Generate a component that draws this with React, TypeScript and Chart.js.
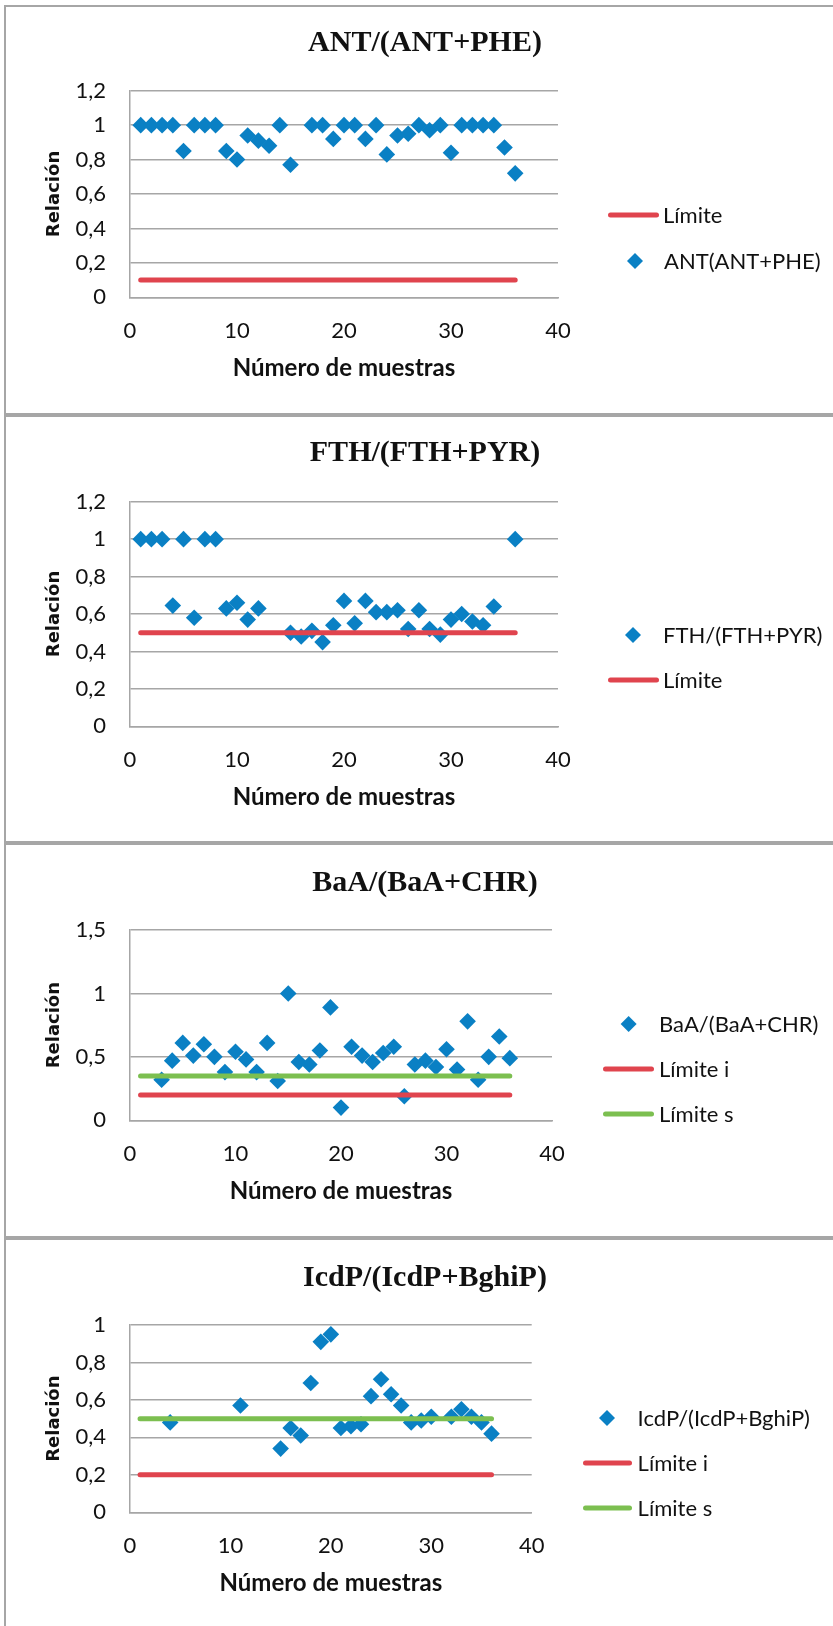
import React, { useEffect, useRef } from "react";
import { Chart, registerables } from "chart.js";

Chart.register(...registerables);

// ---------- DATA ----------
const SAMPLES = [1, 2, 3, 4, 5, 6, 7, 8, 9, 10, 11, 12, 13, 14, 15, 16, 17, 18, 19, 20, 21, 22, 23, 24, 25, 26, 27, 28, 29, 30, 31, 32, 33, 34, 35, 36];
const LIMIT_X = [1, 36];

const X_TICKS = [0, 10, 20, 30, 40];
const X_TICK_LABELS = ["0", "10", "20", "30", "40"];

const Y_TICKS_12 = [0, 0.2, 0.4, 0.6, 0.8, 1, 1.2];
const Y_TICK_LABELS_12 = ["0", "0,2", "0,4", "0,6", "0,8", "1", "1,2"];
const Y_TICKS_15 = [0, 0.5, 1, 1.5];
const Y_TICK_LABELS_15 = ["0", "0,5", "1", "1,5"];
const Y_TICKS_10 = [0, 0.2, 0.4, 0.6, 0.8, 1];
const Y_TICK_LABELS_10 = ["0", "0,2", "0,4", "0,6", "0,8", "1"];

const ANT_VALUES = [1, 1, 1, 1, 0.85, 1, 1, 1, 0.85, 0.8, 0.94, 0.91, 0.88, 1, 0.77, null, 1, 1, 0.92, 1, 1, 0.92, 1, 0.83, 0.94, 0.95, 1, 0.97, 1, 0.84, 1, 1, 1, 1, 0.87, 0.72];
const ANT_LIMIT = [0.1, 0.1];

const FTH_VALUES = [1, 1, 1, 0.645, 1, 0.58, 1, 1, 0.63, 0.66, 0.57, 0.63, null, null, 0.5, 0.48, 0.51, 0.45, 0.54, 0.67, 0.55, 0.67, 0.61, 0.61, 0.62, 0.52, 0.62, 0.52, 0.49, 0.57, 0.6, 0.56, 0.54, 0.64, null, 1];
const FTH_LIMIT = [0.5, 0.5];

const BAA_VALUES = [null, null, 0.32, 0.47, 0.61, 0.51, 0.6, 0.5, 0.38, 0.54, 0.48, 0.38, 0.61, 0.31, 1.0, 0.46, 0.44, 0.55, 0.89, 0.1, 0.58, 0.51, 0.46, 0.53, 0.58, 0.19, 0.44, 0.47, 0.42, 0.56, 0.4, 0.78, 0.32, 0.5, 0.66, 0.49];
const BAA_LIMIT_I = [0.2, 0.2];
const BAA_LIMIT_S = [0.35, 0.35];

const ICDP_VALUES = [null, null, null, 0.48, null, null, null, null, null, null, 0.57, null, null, null, 0.34, 0.45, 0.41, 0.69, 0.91, 0.95, 0.45, 0.46, 0.47, 0.62, 0.71, 0.63, 0.57, 0.48, 0.49, 0.51, null, 0.51, 0.55, 0.51, 0.48, 0.42];
const ICDP_LIMIT_I = [0.2, 0.2];
const ICDP_LIMIT_S = [0.5, 0.5];

// ---------- STYLE / LAYOUT ----------
const BLUE = "#0a80c4";
const RED = "#e0444e";
const GREEN = "#7cbf50";
const GRID = "#a6a6a6";
const TEXT = "#111111";
const CANVAS_LEFT = 6;
const CANVAS_W = 827;
const Y_AXIS_W = 124;
const X_AXIS_H = 100;

type Series = {
  label: string;
  kind: "scatter" | "line";
  xs: number[];
  values: (number | null)[];
  color: string;
  legend: { y: number; x1: number; x2: number; textX: number };
};

type PanelCfg = {
  title: string;
  top: number;
  height: number;
  plot: { top: number; bottom: number; right: number };
  yMax: number;
  yTicks: number[];
  yTickLabels: string[];
  titleY: number;
  series: Series[];
};

const PANELS: PanelCfg[] = [
  {
    title: "ANT/(ANT+PHE)",
    top: 7,
    height: 406,
    plot: { top: 83.7, bottom: 290.3, right: 552 },
    yMax: 1.2,
    yTicks: Y_TICKS_12,
    yTickLabels: Y_TICK_LABELS_12,
    titleY: 36,
    series: [
      { label: "Límite", kind: "line", xs: LIMIT_X, values: ANT_LIMIT, color: RED, legend: { y: 208, x1: 602, x2: 653, textX: 657 } },
      { label: "ANT(ANT+PHE)", kind: "scatter", xs: SAMPLES, values: ANT_VALUES, color: BLUE, legend: { y: 254, x1: 629, x2: 629, textX: 658 } },
    ],
  },
  {
    title: "FTH/(FTH+PYR)",
    top: 417,
    height: 424,
    plot: { top: 84.7, bottom: 309.3, right: 552 },
    yMax: 1.2,
    yTicks: Y_TICKS_12,
    yTickLabels: Y_TICK_LABELS_12,
    titleY: 36,
    series: [
      { label: "FTH/(FTH+PYR)", kind: "scatter", xs: SAMPLES, values: FTH_VALUES, color: BLUE, legend: { y: 218, x1: 627, x2: 627, textX: 657 } },
      { label: "Límite", kind: "line", xs: LIMIT_X, values: FTH_LIMIT, color: RED, legend: { y: 263, x1: 602, x2: 653, textX: 657 } },
    ],
  },
  {
    title: "BaA/(BaA+CHR)",
    top: 845,
    height: 391,
    plot: { top: 85, bottom: 275.3, right: 546 },
    yMax: 1.5,
    yTicks: Y_TICKS_15,
    yTickLabels: Y_TICK_LABELS_15,
    titleY: 38,
    series: [
      { label: "BaA/(BaA+CHR)", kind: "scatter", xs: SAMPLES, values: BAA_VALUES, color: BLUE, legend: { y: 179, x1: 622.6, x2: 622.6, textX: 653 } },
      { label: "Límite i", kind: "line", xs: LIMIT_X, values: BAA_LIMIT_I, color: RED, legend: { y: 224, x1: 597, x2: 648, textX: 653 } },
      { label: "Límite s", kind: "line", xs: LIMIT_X, values: BAA_LIMIT_S, color: GREEN, legend: { y: 269, x1: 597, x2: 648, textX: 653 } },
    ],
  },
  {
    title: "IcdP/(IcdP+BghiP)",
    top: 1240,
    height: 386,
    plot: { top: 85, bottom: 272.3, right: 525.7 },
    yMax: 1,
    yTicks: Y_TICKS_10,
    yTickLabels: Y_TICK_LABELS_10,
    titleY: 38,
    series: [
      { label: "IcdP/(IcdP+BghiP)", kind: "scatter", xs: SAMPLES, values: ICDP_VALUES, color: BLUE, legend: { y: 178, x1: 601, x2: 601, textX: 631.6 } },
      { label: "Límite i", kind: "line", xs: LIMIT_X, values: ICDP_LIMIT_I, color: RED, legend: { y: 223, x1: 577, x2: 626, textX: 631.6 } },
      { label: "Límite s", kind: "line", xs: LIMIT_X, values: ICDP_LIMIT_S, color: GREEN, legend: { y: 268, x1: 577, x2: 626, textX: 631.6 } },
    ],
  },
];

const BORDERS = [
  { top: 5, height: 410 },
  { top: 415, height: 428 },
  { top: 843, height: 395 },
  { top: 1238, height: 500 },
];

function toPoints(xs: number[], values: (number | null)[]) {
  const pts: { x: number; y: number }[] = [];
  xs.forEach((x, i) => {
    const v = values[i];
    if (v !== null && v !== undefined) pts.push({ x, y: v });
  });
  return pts;
}

function drawDiamond(ctx: CanvasRenderingContext2D, x: number, y: number, r: number, color: string) {
  ctx.beginPath();
  ctx.moveTo(x - r, y);
  ctx.lineTo(x, y - r);
  ctx.lineTo(x + r, y);
  ctx.lineTo(x, y + r);
  ctx.closePath();
  ctx.fillStyle = color;
  ctx.fill();
}

function Panel({ cfg }: { cfg: PanelCfg }) {
  const ref = useRef<HTMLCanvasElement>(null);
  useEffect(() => {
    const canvas = ref.current;
    if (!canvas) return;
    const n = cfg.series.length;
    const datasets: any[] = cfg.series.map((s, k) =>
      s.kind === "scatter"
        ? {
            type: "scatter",
            label: s.label,
            data: toPoints(s.xs, s.values),
            pointStyle: "rectRot",
            pointRadius: 8.3,
            pointHoverRadius: 8.3,
            backgroundColor: s.color,
            borderColor: s.color,
            borderWidth: 0,
            order: n - k,
          }
        : {
            type: "line",
            label: s.label,
            data: toPoints(s.xs, s.values),
            borderColor: s.color,
            backgroundColor: s.color,
            borderWidth: 5,
            borderCapStyle: "round",
            pointRadius: 0,
            pointHoverRadius: 0,
            fill: false,
            tension: 0,
            order: n - k,
          }
    );

    const overlay = {
      id: "overlay",
      afterDraw(chart: any) {
        const ctx: CanvasRenderingContext2D = chart.ctx;
        ctx.save();
        ctx.fillStyle = TEXT;
        ctx.font = "bold 30px 'Liberation Serif'";
        ctx.textAlign = "center";
        ctx.textBaseline = "middle";
        ctx.fillText(cfg.title, 419, cfg.titleY);
        ctx.font = "22px Lato";
        ctx.textAlign = "left";
        cfg.series.forEach((s) => {
          const L = s.legend;
          if (s.kind === "line") {
            ctx.beginPath();
            ctx.strokeStyle = s.color;
            ctx.lineWidth = 5;
            ctx.lineCap = "round";
            ctx.moveTo(L.x1 + 2.5, L.y);
            ctx.lineTo(L.x2 - 2.5, L.y);
            ctx.stroke();
          } else {
            drawDiamond(ctx, L.x1, L.y, 8, s.color);
          }
          ctx.fillStyle = TEXT;
          ctx.fillText(s.label, L.textX, L.y + 1);
        });
        ctx.restore();
      },
    };

    const chart = new Chart(canvas, {
      type: "scatter",
      data: { datasets },
      options: {
        responsive: false,
        animation: false,
        devicePixelRatio: 1,
        layout: {
          padding: {
            left: 0,
            right: CANVAS_W - cfg.plot.right,
            top: cfg.plot.top,
            bottom: cfg.height - cfg.plot.bottom - X_AXIS_H,
          },
        },
        plugins: {
          legend: { display: false },
          tooltip: { enabled: false },
          title: { display: false },
        },
        scales: {
          x: {
            type: "linear",
            position: "bottom",
            min: 0,
            max: 40,
            afterBuildTicks: (scale: any) => {
              scale.ticks = X_TICKS.map((v) => ({ value: v }));
            },
            afterFit: (scale: any) => {
              scale.height = X_AXIS_H;
            },
            ticks: {
              callback: (_v: any, i: number) => X_TICK_LABELS[i],
              padding: 20,
              color: TEXT,
              font: { family: "Lato", size: 22 },
            },
            grid: { display: false, drawTicks: false },
            border: { display: true, color: GRID, width: 1.5 },
            title: {
              display: true,
              text: "Número de muestras",
              color: TEXT,
              font: { family: "Lato", size: 24, weight: "bold" },
              padding: { top: 0, bottom: 14.6 },
            },
          },
          y: {
            type: "linear",
            min: 0,
            max: cfg.yMax,
            afterBuildTicks: (scale: any) => {
              scale.ticks = cfg.yTicks.map((v) => ({ value: v }));
            },
            afterFit: (scale: any) => {
              scale.width = Y_AXIS_W;
            },
            ticks: {
              callback: (_v: any, i: number) => cfg.yTickLabels[i],
              padding: 24,
              color: TEXT,
              font: { family: "Lato", size: 22 },
            },
            grid: { color: GRID, lineWidth: 1.5, drawTicks: false },
            border: { display: true, color: GRID, width: 1.5 },
            title: {
              display: true,
              text: "Relación",
              color: TEXT,
              font: { family: "DejaVu Sans", size: 18, weight: "bold" },
              padding: { top: 37.2, bottom: 0 },
            },
          },
        },
      } as any,
      plugins: [overlay],
    });
    return () => chart.destroy();
  }, [cfg]);

  return (
    <canvas
      ref={ref}
      width={CANVAS_W}
      height={cfg.height}
      style={{ position: "absolute", left: CANVAS_LEFT, top: cfg.top, width: CANVAS_W, height: cfg.height }}
    />
  );
}

export default function App() {
  return (
    <div style={{ position: "absolute", left: 0, top: 0, width: 833, height: 1626, overflow: "hidden", background: "#fff" }}>
      {BORDERS.map((b, i) => (
        <div
          key={i}
          style={{
            position: "absolute",
            left: 4,
            top: b.top,
            width: 900,
            height: b.height,
            boxSizing: "border-box",
            border: "2px solid #a6a6a6",
          }}
        />
      ))}
      {PANELS.map((p, i) => (
        <Panel key={i} cfg={p} />
      ))}
    </div>
  );
}
